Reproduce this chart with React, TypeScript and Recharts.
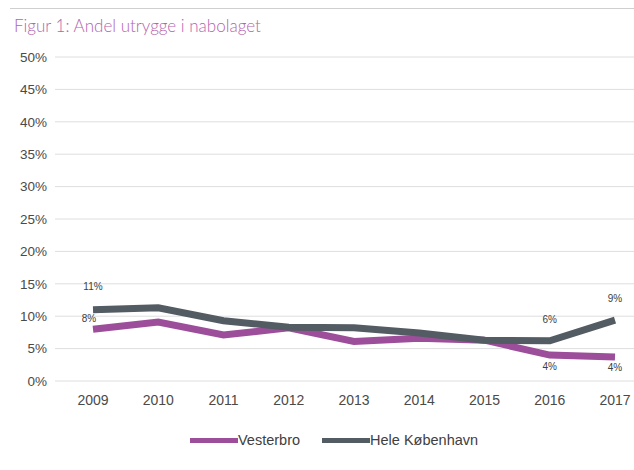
import { CartesianGrid, Line, LineChart, XAxis, YAxis } from 'recharts';

const years = ['2009', '2010', '2011', '2012', '2013', '2014', '2015', '2016', '2017'];
const vesterbro = [8.0, 9.1, 7.1, 8.2, 6.1, 6.6, 6.3, 4.0, 3.7];
const heleKbh = [11.0, 11.3, 9.3, 8.3, 8.2, 7.4, 6.3, 6.2, 9.4];
const yTicks = [0, 5, 10, 15, 20, 25, 30, 35, 40, 45, 50];

const SERIES = [
  { key: 'vesterbro', name: 'Vesterbro', color: '#9c4e9a' },
  { key: 'hele', name: 'Hele København', color: '#535b63' },
];

// which points carry a value label, and where the label sits relative to the point
const LABELS: Record<string, { index: number; dx: number; dy: number }[]> = {
  vesterbro: [
    { index: 0, dx: -4, dy: -10 },
    { index: 7, dx: 0, dy: 12 },
    { index: 8, dx: 0, dy: 11 },
  ],
  hele: [
    { index: 0, dx: 0, dy: -22 },
    { index: 7, dx: 0, dy: -20 },
    { index: 8, dx: 0, dy: -21 },
  ],
};

const data = years.map((year, i) => ({ year, vesterbro: vesterbro[i], hele: heleKbh[i] }));

const FONT = '"Liberation Sans", Arial, sans-serif';

function makeLabel(seriesKey: string) {
  return (props: any) => {
    const spec = LABELS[seriesKey].find((l) => l.index === props.index);
    if (!spec) return null;
    return (
      <text
        key={`${seriesKey}-${props.index}`}
        x={props.x + spec.dx}
        y={props.y + spec.dy}
        textAnchor="middle"
        dominantBaseline="middle"
        fontSize={10}
        fontFamily={FONT}
        style={{ fill: '#404040' }}
      >
        {`${Math.round(props.value)}%`}
      </text>
    );
  };
}

export default function App() {
  return (
    <div style={{ position: 'absolute', left: 0, top: 0, width: 634, height: 470, background: '#fff' }}>
      <div style={{ position: 'absolute', left: 10, top: 8, width: 624, height: 1, background: '#cfcfcf' }} />
      <div
        style={{
          position: 'absolute',
          left: 14,
          top: 15,
          fontFamily: 'Lato, "Open Sans", sans-serif',
          fontSize: 17,
          color: '#b463ae',
          fontWeight: 300,
        }}
      >
        Figur 1: Andel utrygge i nabolaget
      </div>
      <LineChart width={634} height={470} data={data} margin={{ top: 57, right: 0, bottom: 59, left: 15 }}>
        <CartesianGrid vertical={false} stroke="#dedede" />
        <XAxis
          dataKey="year"
          axisLine={false}
          tickLine={false}
          tickMargin={8}
          height={30}
          padding={{ left: 38, right: 19 }}
          tick={{ fontSize: 14, fill: '#4a4a4a', fontFamily: FONT }}
        />
        <YAxis
          domain={[0, 50]}
          ticks={yTicks}
          interval={0}
          width={40}
          axisLine={false}
          tickLine={false}
          tickFormatter={(v: number) => `${v}%`}
          tick={{ fontSize: 13.5, fill: '#4a4a4a', fontFamily: FONT }}
        />
        {SERIES.map((s) => (
          <Line
            key={s.key}
            dataKey={s.key}
            name={s.name}
            stroke={s.color}
            strokeWidth={7}
            dot={false}
            activeDot={false}
            isAnimationActive={false}
            label={makeLabel(s.key)}
          />
        ))}
      </LineChart>
      <div
        style={{
          position: 'absolute',
          left: 190,
          top: 432,
          display: 'flex',
          alignItems: 'center',
          fontFamily: FONT,
          fontSize: 14.5,
          color: '#404040',
        }}
      >
        {SERIES.map((s) => (
          <div key={s.key} style={{ display: 'flex', alignItems: 'center', marginRight: 22 }}>
            <span style={{ display: 'inline-block', width: 48, height: 5, background: s.color }} />
            <span>{s.name}</span>
          </div>
        ))}
      </div>
    </div>
  );
}
